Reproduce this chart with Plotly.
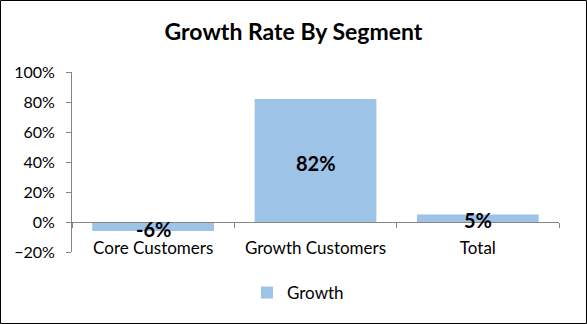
import plotly.graph_objects as go

categories = ["Core Customers", "Growth Customers", "Total"]
growth = [-0.06, 0.82, 0.05]
labels = ["-6%", "82%", "5%"]

W, H = 587, 324
L, R, T, B = 72, 28, 72, 72
pw, ph = W - L - R, H - T - B
FONT = "Lato"

fig = go.Figure()
fig.add_trace(go.Bar(
    x=categories, y=growth, name="Growth",
    marker=dict(color="#9DC3E6", line=dict(width=0)),
    width=0.75,
))

for c, v, t in zip(categories, growth, labels):
    fig.add_annotation(x=c, y=v / 2, text="<b>%s</b>" % t, showarrow=False,
                       yshift=-2, borderpad=0,
                       font=dict(family=FONT, size=20, color="black"),
                       xref="x", yref="y")

fig.add_shape(type="rect", xref="paper", yref="paper",
              x0=(-L + 0.5) / pw, x1=1 + (R - 0.5) / pw,
              y0=(-B + 0.5) / ph, y1=1 + (T - 0.5) / ph,
              line=dict(color="black", width=1), fillcolor="rgba(0,0,0,0)")

fig.update_layout(
    width=W, height=H,
    margin=dict(l=L, r=R, t=T, b=B, autoexpand=False),
    paper_bgcolor="white", plot_bgcolor="white",
    font=dict(family=FONT, size=16, color="#000"),
    title=dict(text="<b>Growth Rate By Segment</b>", x=0.5, xanchor="center",
               y=1 - 32 / H, yanchor="middle",
               font=dict(family=FONT, size=23, color="black")),
    showlegend=True,
    legend=dict(orientation="h", xref="container", yref="container",
                x=298 / W, xanchor="center", y=1 - 293 / H, yanchor="middle",
                font=dict(family=FONT, size=17, color="#000")),
    bargap=0.25,
)
fig.update_yaxes(range=[-0.2, 1.0], dtick=0.2, tickformat=".0%",
                 showgrid=False, zeroline=False, showline=True,
                 linecolor="#868686", linewidth=1, ticks="outside",
                 ticklen=5, tickcolor="#868686", ticklabelstandoff=8,
                 tickfont=dict(family=FONT, size=16, color="#000"))
fig.update_xaxes(anchor="free", position=1 / 6, showgrid=False,
                 showline=True, linecolor="#868686", linewidth=1,
                 ticks="outside", tickson="boundaries", ticklen=5,
                 tickcolor="#868686", ticklabelstandoff=11,
                 tickfont=dict(family=FONT, size=17, color="#000"))

fig.write_html("out.html")
